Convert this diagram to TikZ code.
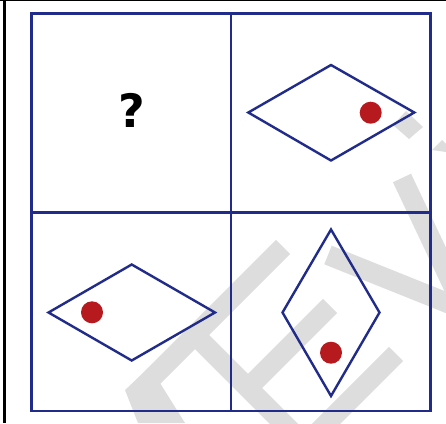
\documentclass[tikz,border=0pt]{standalone}
\usepackage{fontspec}
\setmainfont{DejaVu Sans}
\definecolor{navy}{RGB}{33,44,138}
\definecolor{dotred}{RGB}{182,26,30}
\definecolor{wm}{RGB}{221,221,221}
\begin{document}
\begin{tikzpicture}[x=1pt,y=-1pt,
  gridline/.style={draw=navy,line width=2.6pt},
  rhomb/.style={draw=navy,line width=2.4pt,line join=miter},
  reddot/.style={fill=dotred},
  wmark/.style={draw=wm,line width=20pt,line cap=butt,line join=miter}]
\useasboundingbox (0,0) rectangle (446,423);
\fill[white] (0,0) rectangle (446,423);
% watermark
\begin{scope}
\clip (0,0) rectangle (446,423);
\draw[wmark] (283,247) -- (135,395);
\fill[wm] (125,390) -- (150,367) -- (185,423) -- (138,423) -- cycle;
\draw[wmark] (195,335) -- (320,460);
\draw[wmark] (248,388) -- (330,306);
\draw[wmark] (305,445) -- (396,354);
\draw[wmark] (402,178) -- (455,290);
\draw[wmark] (328,255) -- (460,308);
\fill[wm] (393,125) -- (406,111) -- (423,127) -- (409,139) -- cycle;
\fill[wm] (432,150) -- (442,140) -- (446,144) -- (446,152) -- cycle;
\end{scope}
% frame lines
\draw[black,line width=1.5pt] (0,0.6) -- (446,0.6);
\draw[black,line width=2.3pt] (4.5,0) -- (4.5,423);
% grid
\coordinate (tl) at (31.5,13.5);
\coordinate (br) at (430.5,411);
\coordinate (mt) at (231,13.5);
\coordinate (mb) at (231,411);
\coordinate (ml) at (31.5,212.5);
\coordinate (mr) at (430.5,212.5);
\draw[gridline] (tl) rectangle (br);
\draw[gridline] (mt) -- (mb);
\draw[gridline] (ml) -- (mr);
% question mark
\node[font=\bfseries\fontsize{46}{46}\selectfont,inner sep=0pt] (q) at (132,110) {?};
% diamonds
\draw[rhomb] (248.3,112.5) -- (331,65) -- (414.3,112.5) -- (331,160.5) -- cycle;
\draw[rhomb] (48.5,312.5) -- (131.7,264.5) -- (215,312.5) -- (131.7,360.5) -- cycle;
\draw[rhomb] (331,229.5) -- (379.5,312.5) -- (331,396) -- (282.5,312.5) -- cycle;
% dots
\fill[reddot] (370.7,112.7) circle (11);
\fill[reddot] (92,312.3) circle (11);
\fill[reddot] (331,352.7) circle (11);
\end{tikzpicture}
\end{document}
